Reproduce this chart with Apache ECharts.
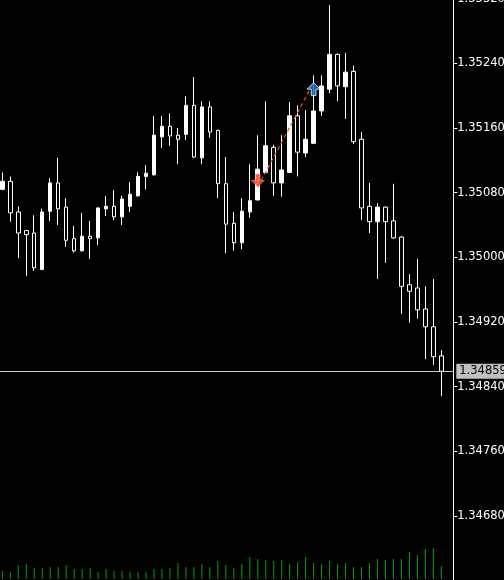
<!DOCTYPE html>
<html>
<head>
<meta charset="utf-8">
<style>
html,body{margin:0;padding:0;background:#000;}
#chart{width:504px;height:580px;}
</style>
<script src="https://cdn.jsdelivr.net/npm/echarts@6/dist/echarts.min.js"></script>
</head>
<body>
<div id="chart"></div>
<script>
// ---- data ----
const categories = Array.from({length: 57}, (_, i) => String(i + 1));
const opens  = [1.35084,1.35094,1.35056,1.35033,1.35030,1.34985,1.35057,1.35092,1.35062,1.35023,
                1.35008,1.35026,1.35024,1.35060,1.35063,1.35050,1.35063,1.35076,1.35100,1.35102,
                1.35149,1.35162,1.35151,1.35152,1.35188,1.35123,1.35186,1.35157,1.35091,1.35042,
                1.35018,1.35056,1.35071,1.35105,1.35136,1.35092,1.35105,1.35175,1.35129,1.35141,
                1.35181,1.35208,1.35251,1.35211,1.35230,1.35146,1.35063,1.35044,1.35062,1.35045,
                1.35025,1.34966,1.34962,1.34936,1.34914,1.34878];
const closes = [1.35094,1.35055,1.35030,1.35028,1.34987,1.35056,1.35092,1.35060,1.35021,1.35008,
                1.35026,1.35023,1.35061,1.35063,1.35050,1.35072,1.35078,1.35100,1.35104,1.35151,
                1.35162,1.35150,1.35146,1.35188,1.35124,1.35186,1.35155,1.35091,1.35041,1.35018,
                1.35057,1.35070,1.35109,1.35138,1.35092,1.35108,1.35175,1.35130,1.35146,1.35181,
                1.35212,1.35251,1.35212,1.35229,1.35143,1.35061,1.35044,1.35062,1.35044,1.35024,
                1.34964,1.34958,1.34935,1.34914,1.34877,1.34859];
const lows   = [1.35083,1.35044,1.34999,1.34977,1.34983,1.34984,1.35045,1.35040,1.35013,1.35006,
                1.35007,1.34998,1.35015,1.35051,1.35046,1.35040,1.35056,1.35075,1.35084,1.35101,
                1.35135,1.35138,1.35115,1.35145,1.35123,1.35115,1.35148,1.35073,1.35005,1.35008,
                1.35010,1.35049,1.35070,1.35104,1.35076,1.35075,1.35104,1.35100,1.35124,1.35140,
                1.35175,1.35203,1.35193,1.35171,1.35140,1.35046,1.35030,1.34973,1.34993,1.35023,
                1.34930,1.34919,1.34924,1.34874,1.34867,1.34828];
const highs  = [1.35105,1.35100,1.35063,1.35034,1.35052,1.35060,1.35098,1.35123,1.35073,1.35039,
                1.35055,1.35045,1.35062,1.35076,1.35083,1.35076,1.35093,1.35105,1.35114,1.35175,
                1.35175,1.35178,1.35160,1.35199,1.35223,1.35193,1.35193,1.35158,1.35124,1.35056,
                1.35073,1.35115,1.35151,1.35193,1.35139,1.35151,1.35192,1.35188,1.35182,1.35225,
                1.35225,1.35312,1.35252,1.35253,1.35237,1.35155,1.35092,1.35067,1.35063,1.35091,
                1.35026,1.34979,1.34998,1.34964,1.34973,1.34885];
const volumes = [80,70,140,150,110,110,120,120,140,100,
                 100,110,70,100,80,80,70,70,70,100,
                 100,110,160,120,120,150,120,180,140,110,
                 150,220,200,190,180,190,150,170,220,160,
                 150,180,150,160,120,120,160,200,190,200,
                 200,270,240,300,310,130];
const priceTicks = [1.3460, 1.3532, 0.0008]; // min, max, step of the price scale labels
const currentPrice = 1.34859;
const sellEntry = [32, 1.35087];   // red arrow
const tradeExit = [39, 1.35216];   // blue arrow

const candleData = opens.map((o, i) => [o, closes[i], lows[i], highs[i]]);

const downArrow = 'path://M3.5,0 L7.5,0 L7.5,6 L11,6 L5.5,12 L0,6 L3.5,6 Z';
const upArrow = 'path://M5.5,0 L11,6 L7.5,6 L7.5,12 L3.5,12 L3.5,6 L0,6 Z';

const chart = echarts.init(document.getElementById('chart'), null, {renderer: 'canvas'});
const font = 'DejaVu Sans';
chart.setOption({
  backgroundColor: '#000000',
  animation: false,
  grid: [
    {left: -1.67, right: 50.7, top: -1.4, bottom: -0.6, containLabel: false, outerBoundsMode: 'none'},
    {left: -1.67, right: 50.7, top: 539, bottom: 1, containLabel: false, outerBoundsMode: 'none'}
  ],
  xAxis: [
    {type: 'category', data: categories, gridIndex: 0, show: false, boundaryGap: true},
    {type: 'category', data: categories, gridIndex: 1, show: false, boundaryGap: true}
  ],
  yAxis: [
    {
      type: 'value', gridIndex: 0, position: 'right',
      min: priceTicks[0], max: priceTicks[1], interval: priceTicks[2],
      splitLine: {show: false},
      axisLine: {show: true, lineStyle: {color: '#ffffff', width: 1}},
      axisTick: {show: true, length: 4, lineStyle: {color: '#ffffff'}},
      axisLabel: {
        color: '#ffffff', fontFamily: font, fontSize: 11.5, margin: 4,
        showMinLabel: false, showMaxLabel: true, hideOverlap: false,
        formatter: v => v.toFixed(5)
      }
    },
    {
      type: 'value', gridIndex: 1, min: 0, max: 400, show: false
    }
  ],
  series: [
    {
      type: 'candlestick',
      xAxisIndex: 0, yAxisIndex: 0,
      data: candleData,
      barWidth: 4,
      itemStyle: {
        color: '#ffffff', color0: '#000000',
        borderColor: '#ffffff', borderColor0: '#ffffff', borderWidth: 1
      }
    },
    {
      type: 'bar',
      xAxisIndex: 1, yAxisIndex: 1,
      data: volumes,
      barWidth: 1,
      itemStyle: {color: '#00a400'}
    },
    {
      type: 'line',
      xAxisIndex: 0, yAxisIndex: 0,
      data: [sellEntry, tradeExit],
      symbol: 'none',
      lineStyle: {color: '#f04a20', width: 1.2, type: [4, 3]},
      z: 5,
      markLine: {
        silent: true,
        precision: 5,
        symbol: ['none', 'none'],
        lineStyle: {color: '#c8c8c8', width: 1, type: 'solid'},
        label: {
          show: true, position: 'end', distance: 3,
          backgroundColor: '#c0c0c0', color: '#000000',
          fontFamily: font, fontSize: 11.5,
          padding: [2, 4, 1, 3],
          formatter: () => currentPrice.toFixed(5)
        },
        data: [{yAxis: currentPrice}]
      }
    },
    {
      type: 'scatter',
      xAxisIndex: 0, yAxisIndex: 0,
      data: [sellEntry],
      symbol: downArrow,
      symbolSize: [13, 13],
      symbolOffset: [0, -6.5],
      itemStyle: {color: '#f0401a', borderColor: '#ffd0c0', borderWidth: 0.6},
      z: 6
    },
    {
      type: 'scatter',
      xAxisIndex: 0, yAxisIndex: 0,
      data: [tradeExit],
      symbol: upArrow,
      symbolSize: [13, 13],
      symbolOffset: [0, 6.5],
      itemStyle: {color: '#1e6ed6', borderColor: '#ffffff', borderWidth: 1},
      z: 6
    }
  ]
});
</script>
</body>
</html>
